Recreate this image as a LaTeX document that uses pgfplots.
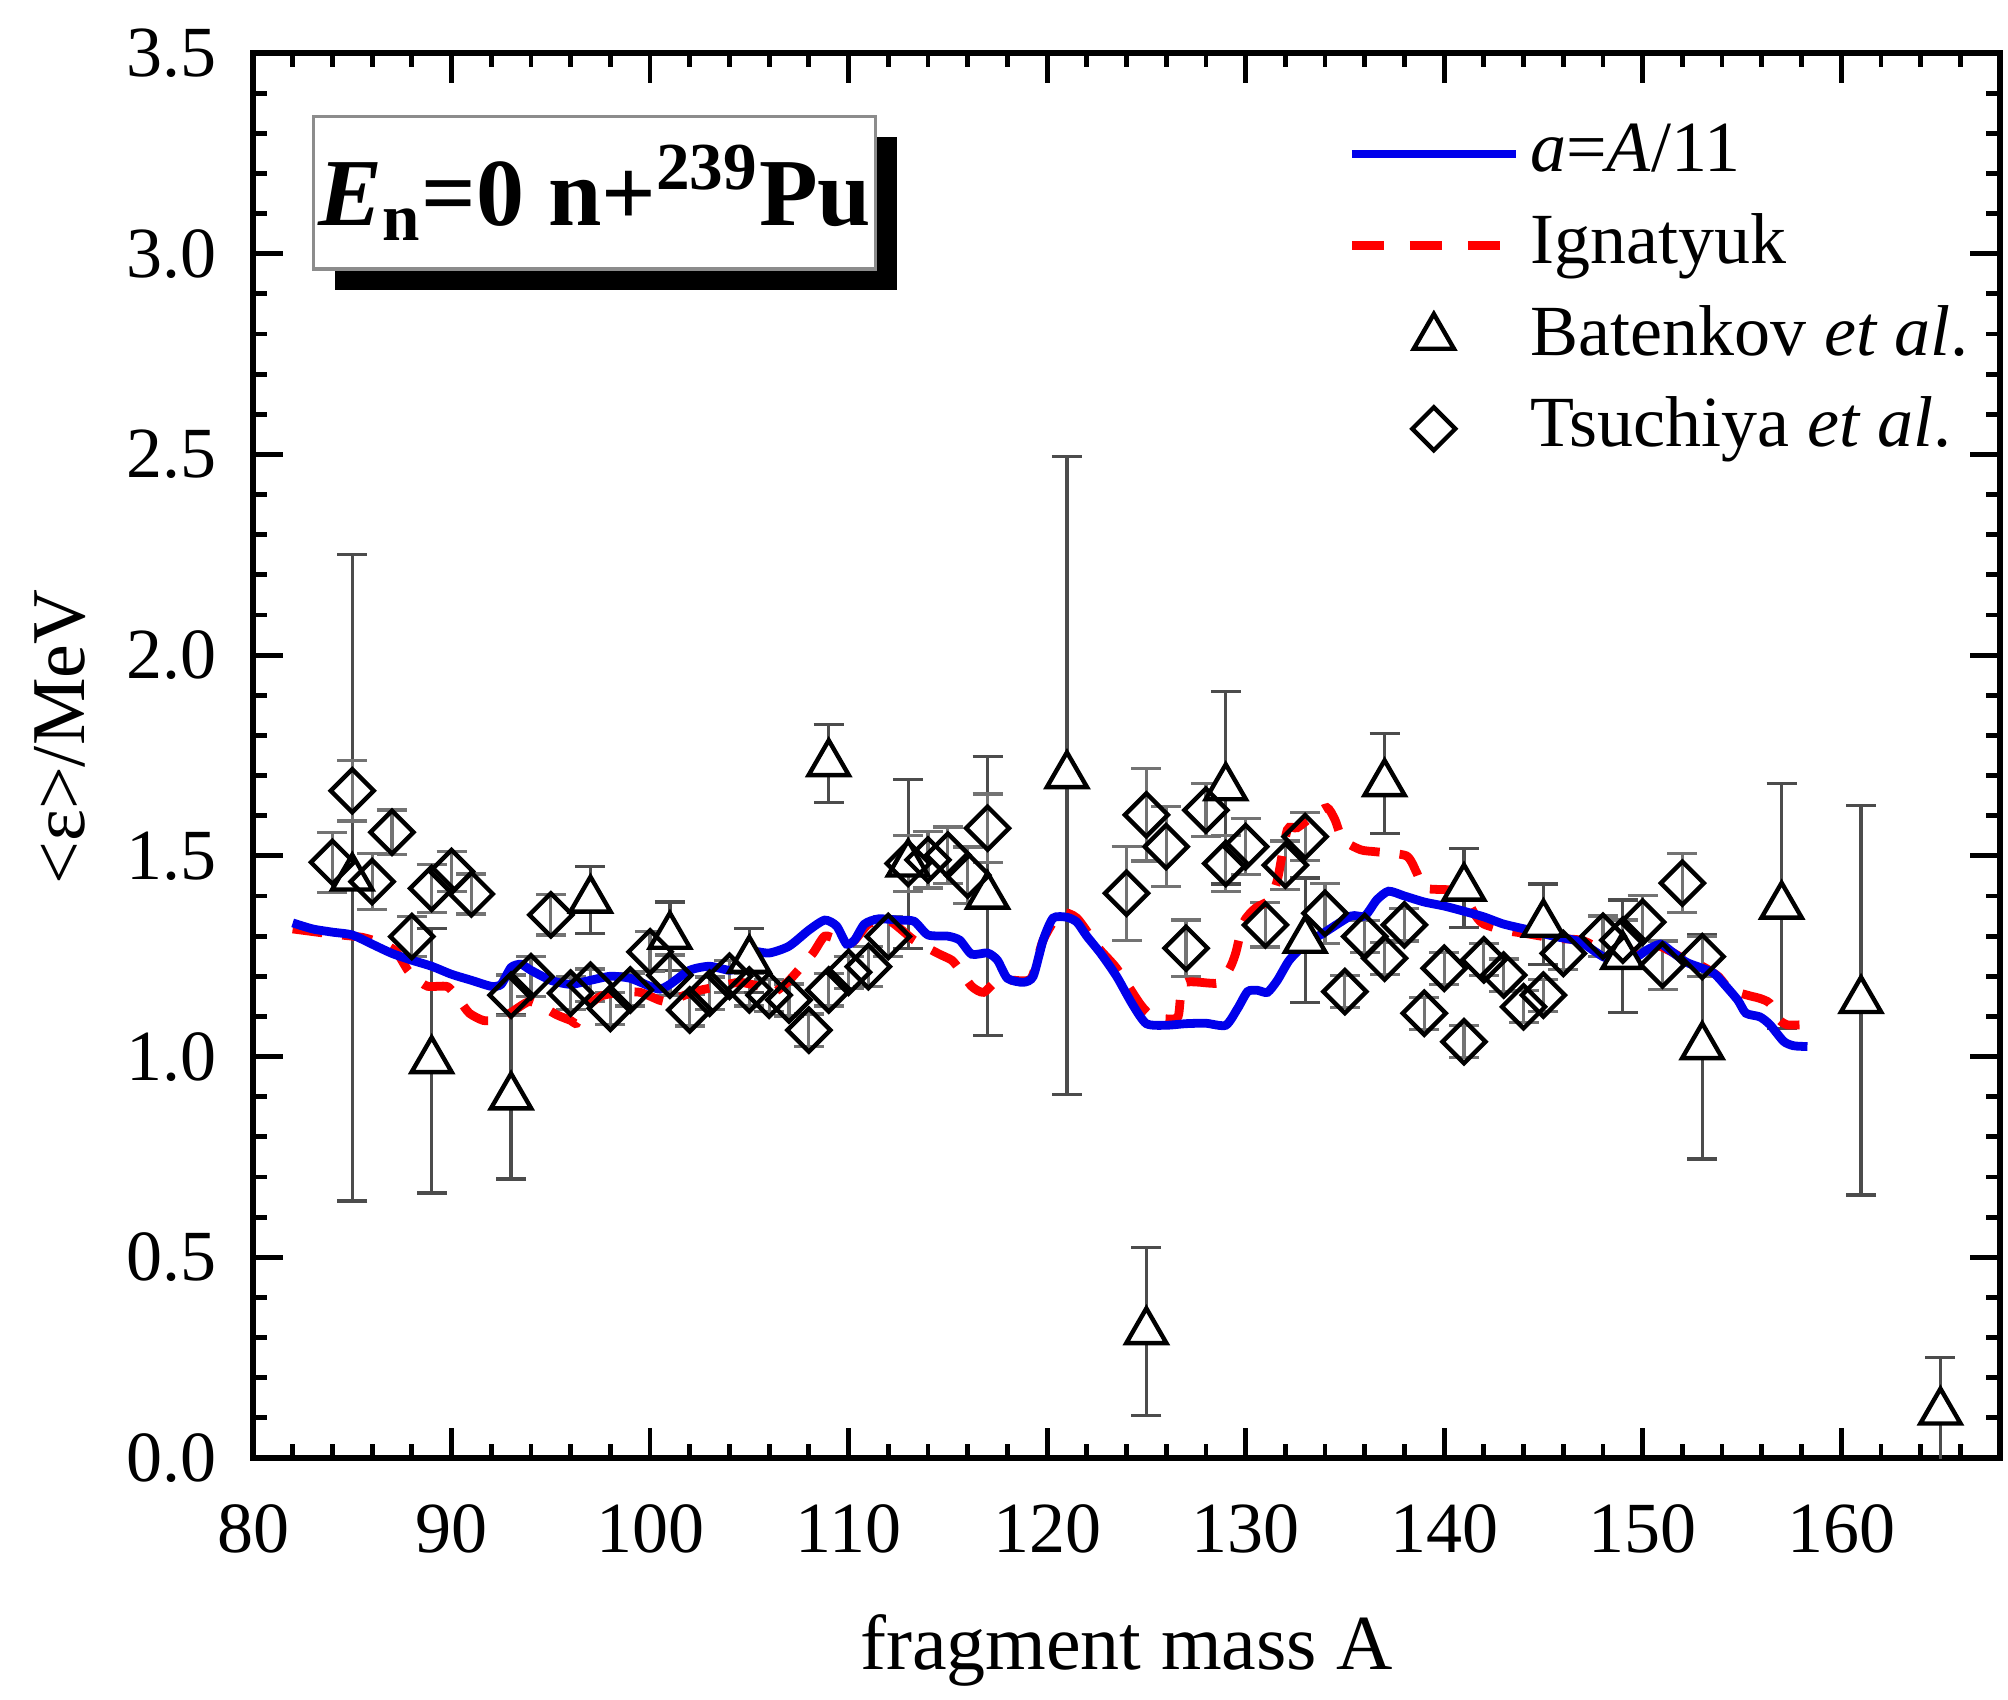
\documentclass[border=0pt]{standalone}
\usepackage{fontspec}
\setmainfont{Liberation Serif}
\usepackage{pgfplots}
\pgfplotsset{compat=1.18}
\usepackage{pgfplotstable}
\usetikzlibrary{shadows}

\pgfplotstableread{
x y
82 1.333
83 1.318
84 1.310
85 1.303
86 1.280
87 1.257
88 1.240
89 1.225
90 1.205
91 1.190
92 1.175
92.5 1.180
93 1.222
93.5 1.230
94 1.215
95 1.190
96 1.180
97 1.190
98 1.200
99 1.195
100 1.175
100.5 1.168
101 1.180
102 1.215
103 1.225
104 1.215
104.6 1.225
105 1.262
106 1.258
107 1.275
108 1.315
108.8 1.340
109.4 1.325
109.9 1.280
110.3 1.290
110.8 1.330
111.5 1.343
112.5 1.340
113.3 1.337
114 1.303
115 1.300
115.6 1.290
116.2 1.255
117 1.258
117.5 1.240
118 1.195
118.8 1.185
119.3 1.200
119.8 1.290
120.3 1.345
121 1.347
121.5 1.335
122 1.300
122.7 1.257
123.5 1.200
124.3 1.130
125 1.082
126 1.078
127 1.082
128 1.083
129 1.078
129.6 1.120
130.1 1.162
130.6 1.165
131.1 1.160
131.6 1.190
132.2 1.240
133 1.280
134 1.310
135.3 1.350
136 1.350
136.6 1.390
137.2 1.412
138 1.400
139 1.385
140 1.375
141 1.362
142 1.348
143 1.330
144.3 1.315
145.5 1.300
146.8 1.287
147.5 1.265
148.2 1.245
149.5 1.244
150.2 1.265
150.9 1.280
151.5 1.260
152.2 1.235
153 1.220
153.6 1.207
154.2 1.175
154.8 1.140
155.2 1.108
155.9 1.099
156.4 1.080
157.1 1.038
157.6 1.027
158.3 1.025
}\bluecurve

\pgfplotstableread{
x y
82 1.318
84 1.305
85.5 1.297
86.5 1.282
87.2 1.262
87.8 1.215
88.2 1.195
88.8 1.175
89.8 1.174
90.4 1.140
90.9 1.108
91.6 1.090
92.3 1.091
93 1.110
93.9 1.137
94.6 1.124
95.3 1.104
96.0 1.090
96.3 1.083
96.7 1.118
97.5 1.150
98.5 1.160
99.5 1.160
100.5 1.140
101.2 1.135
101.6 1.150
102.5 1.165
103.5 1.175
104.5 1.185
105.5 1.175
106.2 1.160
106.8 1.180
107.2 1.200
108.2 1.257
108.8 1.300
109.5 1.290
110.2 1.285
111 1.330
112 1.340
113.3 1.290
114.5 1.257
115.2 1.240
115.6 1.216
116.2 1.175
116.8 1.160
117.5 1.190
118.3 1.190
119.2 1.195
119.8 1.290
120.65 1.357
121.5 1.345
122.6 1.270
123.5 1.220
124.7 1.130
125.3 1.100
126 1.094
126.6 1.100
126.9 1.183
128.6 1.183
129.2 1.220
129.5 1.258
129.9 1.335
130.5 1.370
131.2 1.390
131.6 1.440
132.1 1.565
132.6 1.570
133.4 1.600
134.1 1.620
134.5 1.590
134.9 1.540
135.8 1.515
136.6 1.510
138.1 1.500
138.6 1.460
139 1.420
140.3 1.415
141 1.400
141.6 1.350
142 1.330
143 1.315
144.3 1.305
145.5 1.295
146.9 1.290
147.8 1.270
148.5 1.255
149.5 1.260
150.5 1.280
151.3 1.265
152.2 1.240
153 1.225
153.8 1.200
154.4 1.165
154.9 1.158
155.5 1.150
155.9 1.145
156.4 1.133
156.9 1.091
157.3 1.079
157.9 1.079
}\redcurve

\pgfplotstableread{
x y e
85 1.445 0.805
89 0.99 0.33
93 0.90 0.205
97 1.39 0.083
101 1.30 0.085
105 1.24 0.08
109 1.73 0.098
113 1.48 0.21
117 1.40 0.347
121 1.70 0.795
125 0.315 0.21
129 1.67 0.24
133 1.29 0.155
137 1.68 0.125
141 1.42 0.098
145 1.33 0.10
149 1.25 0.14
153 1.025 0.28
157 1.375 0.305
161 1.14 0.485
165 0.115 0.135
}\batenkov

\pgfplotstableread{
x y e
84 1.484 0.075
85 1.662 0.075
86 1.436 0.07
87 1.559 0.055
88 1.299 0.05
89 1.419 0.06
90 1.461 0.05
91 1.405 0.05
93 1.153 0.05
94 1.199 0.05
95 1.353 0.05
96 1.158 0.04
97 1.178 0.04
98 1.12 0.04
99 1.166 0.04
100 1.261 0.05
101 1.203 0.05
102 1.116 0.04
103 1.158 0.04
104 1.20 0.04
105 1.166 0.04
106 1.153 0.04
107 1.141 0.04
108 1.066 0.04
109 1.166 0.04
110 1.21 0.04
111 1.224 0.05
112 1.299 0.05
113 1.481 0.07
114 1.49 0.07
115 1.502 0.07
116 1.452 0.07
117 1.569 0.085
124 1.407 0.117
125 1.602 0.115
126 1.523 0.10
127 1.27 0.07
128 1.614 0.066
129 1.481 0.07
130 1.523 0.07
131 1.328 0.055
132 1.477 0.06
133 1.548 0.06
134 1.357 0.075
135 1.162 0.04
136 1.299 0.04
137 1.245 0.04
138 1.328 0.04
139 1.108 0.04
140 1.22 0.04
141 1.037 0.04
142 1.241 0.04
143 1.203 0.04
144 1.124 0.04
145 1.153 0.04
146 1.257 0.04
148 1.30 0.05
149 1.29 0.05
150 1.335 0.066
151 1.228 0.06
152 1.432 0.073
153 1.249 0.05
}\tsuchiya

\begin{document}
\begin{tikzpicture}
\begin{axis}[
  name=ax,
  scale only axis,
  width=436.75pt, height=351.25pt,
  xmin=80, xmax=168, ymin=0, ymax=3.5,
  xtick={80,90,100,110,120,130,140,150,160},
  minor xtick={82,84,86,88,92,94,96,98,102,104,106,108,112,114,116,118,122,124,126,128,132,134,136,138,142,144,146,148,152,154,156,158,162,164,166},
  ytick={0,0.5,1,1.5,2,2.5,3,3.5},
  minor ytick={0.1,0.2,0.3,0.4,0.6,0.7,0.8,0.9,1.1,1.2,1.3,1.4,1.6,1.7,1.8,1.9,2.1,2.2,2.3,2.4,2.6,2.7,2.8,2.9,3.1,3.2,3.3,3.4},
  yticklabel style={xshift=-5.6pt, /pgf/number format/fixed, /pgf/number format/fixed zerofill, /pgf/number format/precision=1},
  /pgf/number format/assume math mode=true,
  tick label style={font=\fontsize{18}{20}\selectfont},
  xticklabel style={yshift=-8pt},
  tick align=inside,
  tick pos=both,
  major tick length=7.5pt,
  minor tick length=3.5pt,
  axis line style={line width=1.4pt},
  every tick/.style={black, line width=1.2pt},
  xlabel={fragment mass A},
  ylabel={<ε>/MeV},
  every axis x label/.style={at={(axis description cs:0.5,0)}, anchor=center, yshift=-48pt, font=\fontsize{19.5}{22}\selectfont},
  every axis y label/.style={at={(axis description cs:-0.1105,0.513)}, anchor=center, rotate=90, font=\fontsize{19}{22}\selectfont},
  legend style={at={(rel axis cs:0.626,0.96)}, anchor=north west, draw=none, fill=none, inner sep=0pt,
    font=\fontsize{18}{20}\selectfont,
    nodes={inner sep=2.5pt, text height=13pt, text depth=4pt},
    row sep=0.9pt},
  legend cell align=left,
]
% Batenkov
\addplot[forget plot, only marks, mark=triangle*, mark size=5.8pt,
  mark options={draw=black, fill=white, line width=1.1pt},
  error bars/.cd, y dir=both, y explicit,
  error bar style={black!70, line width=0.8pt},
  error mark options={rotate=90, mark size=3.75pt, black!70, line width=0.8pt}]
  table[x=x, y=y, y error=e] {\batenkov};
% Tsuchiya
\addplot[forget plot, only marks, mark=square, mark size=3.8pt,
  mark options={draw=black, rotate=45, line width=1.1pt},
  error bars/.cd, y dir=both, y explicit,
  error bar style={black!55, line width=0.8pt},
  error mark options={rotate=90, mark size=3.75pt, black!55, line width=0.8pt}]
  table[x=x, y=y, y error=e] {\tsuchiya};
% curves
\addplot[forget plot, color={rgb,255:red,255;green,0;blue,0}, line width=2.2pt, dash pattern=on 7.5pt off 5pt, smooth, tension=0.4] table[x=x,y=y] {\redcurve};
\addplot[forget plot, color={rgb,255:red,0;green,0;blue,235}, line width=2.2pt, smooth, tension=0.4] table[x=x,y=y] {\bluecurve};

\addlegendimage{legend image code/.code={\draw[color={rgb,255:red,0;green,0;blue,235}, line width=2.2pt] (0pt,0pt) -- (41pt,0pt);}}
\addlegendentry{\textit{a}=\textit{A}/11}
\addlegendimage{legend image code/.code={\draw[color={rgb,255:red,255;green,0;blue,0}, line width=2.2pt, dash pattern=on 8pt off 6.5pt] (0pt,0pt) -- (41pt,0pt);}}
\addlegendentry{Ignatyuk}
\addlegendimage{legend image code/.code={\path[draw=none] (0pt,0pt) -- (41pt,0pt); \draw[black, line width=1.1pt] plot[mark=triangle*, mark size=5.8pt, mark options={fill=white}] coordinates {(20.5pt,0pt)};}}
\addlegendentry{Batenkov \textit{et al}.}
\addlegendimage{legend image code/.code={\path[draw=none] (0pt,0pt) -- (41pt,0pt); \draw[black, line width=1.1pt] plot[mark=square, mark size=3.8pt, mark options={rotate=45}] coordinates {(20.5pt,0pt)};}}
\addlegendentry{Tsuchiya \textit{et al}.}
\end{axis}
% annotation box with shadow
\node[anchor=north west, draw=black!45, line width=0.8pt, fill=white,
  minimum width=140.5pt, minimum height=38.2pt, inner sep=0pt,
  drop shadow={shadow xshift=5.3pt, shadow yshift=-5.3pt, opacity=1, fill=black},
  font=\fontsize{24}{28}\selectfont\bfseries]
  at ([shift={(14.75pt,-15.4pt)}]ax.north west)
  {\textit{E}\textsubscript{n}=0 n+\textsuperscript{239}Pu};
% bounding box matching the reference margins
\path ([shift={(-63.25pt,-58.25pt)}]ax.south west) rectangle ([shift={(2pt,13.25pt)}]ax.north east);
\end{tikzpicture}
\end{document}
